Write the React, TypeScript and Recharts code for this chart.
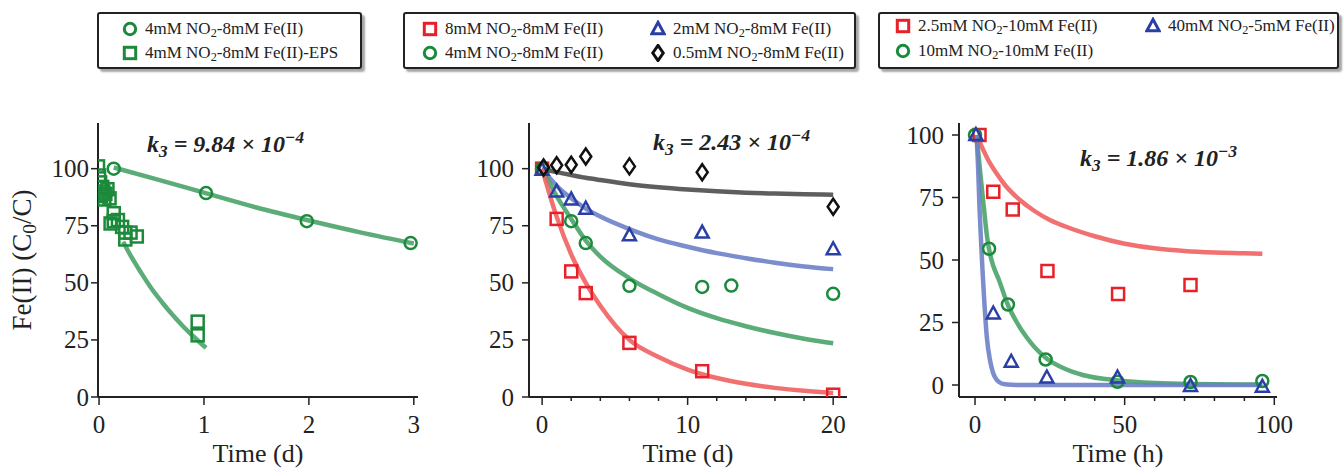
import { ComposedChart, Line, Scatter, XAxis, YAxis } from 'recharts';

const FONT = "'Liberation Serif', 'Times New Roman', serif";

const GREEN = '#1b8a3b';
const GREEN_LINE = '#4aa36a';
const RED = '#e8202a';
const RED_LINE = '#f06262';
const BLUE = '#2a3fa6';
const BLUE_LINE = '#6d81c6';
const BLACK = '#111111';
const BLACK_LINE = '#4d4d4d';

// panel 1 (days)
const p1CircX = [0.14, 1.02, 1.98, 2.97];
const p1CircY = [100, 89.3, 77, 67.4];
const p1SqX = [-0.01, 0, 0.01, 0.03, 0.04, 0.02, 0.05, 0.06, 0.08, 0.1, 0.11, 0.14, 0.14, 0.18, 0.22, 0.25, 0.25, 0.3, 0.36, 0.94, 0.94];
const p1SqY = [101, 97, 94, 92, 90, 88, 86.5, 89, 91, 87, 76, 80.5, 77, 77.5, 74.5, 72, 69, 72, 70.3, 33, 27];
const p1CircFitX = [0.14, 0.5, 1, 1.5, 2, 2.5, 3];
const p1CircFitY = [100.5, 96, 89.5, 83, 77.3, 72, 67.2];
const p1SqFitX = [0.23, 0.3, 0.4, 0.5, 0.6, 0.7, 0.8, 0.9, 1.02];
const p1SqFitY = [68, 62, 54.5, 47.5, 41.5, 36, 31, 26.5, 21.5];

// panel 2 (days)
const p2RedX = [0, 1, 2, 3, 6, 11, 20];
const p2RedY = [100, 78, 55, 45.5, 23.7, 11.3, 1];
const p2GreenX = [0, 2, 3, 6, 11, 13, 20];
const p2GreenY = [100, 77, 67.4, 48.7, 48.2, 48.8, 45.2];
const p2BlueX = [0, 1, 2, 3, 6, 11, 20];
const p2BlueY = [99.5, 90, 86.5, 82.5, 70.8, 72, 64.7];
const p2BlackX = [0.1, 1, 2, 3, 6, 11, 20];
const p2BlackY = [100.5, 101.5, 101.7, 105.3, 101, 98.4, 83.3];
const p2FitX = [0, 1, 2, 3, 4, 6, 8, 10, 12, 14, 16, 18, 20];
const p2RedFit = [100, 79, 62.5, 50, 40, 25, 17.5, 12, 8.3, 5.8, 4, 2.7, 1.8];
const p2GreenFit = [100, 88, 78, 68.5, 61.5, 52, 45, 39, 34.5, 31, 28, 25.5, 23.5];
const p2BlueFit = [100, 92.5, 87, 82.5, 79, 73.5, 69, 65.8, 63, 60.8, 58.8, 57.2, 56];
const p2BlackFit = [100, 98.5, 97.2, 96, 95, 93.2, 91.9, 90.9, 90.1, 89.5, 89.1, 88.8, 88.6];

// panel 3 (hours)
const p3RedX = [1.5, 6.1, 12.6, 24.2, 47.8, 72];
const p3RedY = [100, 77.3, 70.2, 45.6, 36.4, 40];
const p3GreenX = [0, 4.7, 11, 23.6, 47.6, 72, 96];
const p3GreenY = [100, 54.5, 32.2, 10.2, 1.3, 1.2, 1.6];
const p3BlueX = [0.3, 6.1, 12.1, 24, 47.6, 72, 96];
const p3BlueY = [100, 28.6, 9.3, 3, 3, -0.4, -0.7];
const p3RedFitX = [0.5, 2, 4.4, 7, 10, 15, 20, 25, 30, 40, 50, 60, 70, 80, 90, 96];
const p3RedFitY = [100, 96, 90, 85, 80, 74, 69.5, 66, 63.5, 59.5, 56.5, 54.7, 53.6, 53, 52.7, 52.5];
const p3GreenFitX = [0.5, 1, 2, 3, 4, 5, 6, 8, 11, 14, 17, 20, 24, 30, 36, 48, 60, 72, 96];
const p3GreenFitY = [100, 94, 82, 70.5, 59.5, 52.5, 48, 42, 32, 25, 19.5, 15, 10.5, 6.5, 4, 1.8, 0.8, 0.4, 0.2];
const p3BlueFitX = [0.5, 1, 1.5, 2, 2.5, 3, 4, 5, 6, 7, 8, 10, 14, 96];
const p3BlueFitY = [100, 88, 71, 58, 46, 35.5, 18.5, 10, 5, 2.5, 1.2, 0.3, 0, 0];

const yTicks = [0, 25, 50, 75, 100];

type Pt = { x: number; y: number };
const pts = (xs: number[], ys: number[]): Pt[] => xs.map((x, i) => ({ x, y: ys[i] }));

type Kind = 'square' | 'circle' | 'triangle' | 'diamond';

const Marker = ({ kind, cx, cy, color, s = 1, sw = 2.5 }: any) => {
  if (kind === 'square')
    return <rect x={cx - 6 * s} y={cy - 6 * s} width={12 * s} height={12 * s} fill="none" stroke={color} strokeWidth={sw} />;
  if (kind === 'circle') return <circle cx={cx} cy={cy} r={6 * s} fill="none" stroke={color} strokeWidth={sw} />;
  if (kind === 'triangle')
    return (
      <polygon
        points={`${cx},${cy - 7 * s} ${cx - 6.5 * s},${cy + 5 * s} ${cx + 6.5 * s},${cy + 5 * s}`}
        fill="none"
        stroke={color}
        strokeWidth={sw}
      />
    );
  return (
    <polygon
      points={`${cx},${cy - 8 * s} ${cx + 5.5 * s},${cy} ${cx},${cy + 8 * s} ${cx - 5.5 * s},${cy}`}
      fill="none"
      stroke={color}
      strokeWidth={sw}
    />
  );
};

type Series =
  | { kind: 'line'; data: Pt[]; color: string }
  | { kind: 'scatter'; data: Pt[]; color: string; marker: Kind };

const textStyle = { fontFamily: FONT };

const XTick = ({ x, y, payload, majors }: any) => {
  const major = majors.includes(payload.value);
  return (
    <g>
      <line x1={x} x2={x} y1={y} y2={y + (major ? 8 : 4)} stroke="#222" strokeWidth={1.5} />
      {major && (
        <text x={x} y={y + 36} textAnchor="middle" fontSize={25} style={textStyle} fill="#222">
          {payload.value}
        </text>
      )}
    </g>
  );
};

const YTick = ({ x, y, payload, gap }: any) => (
  <g>
    <line x1={x - 7} x2={x} y1={y} y2={y} stroke="#222" strokeWidth={1.5} />
    <text x={x - 7 - gap} y={y + 8.5} textAnchor="end" fontSize={25} style={textStyle} fill="#222">
      {payload.value}
    </text>
  </g>
);

interface PanelProps {
  left: number;
  width: number;
  yAxisWidth: number;
  right: number;
  xDomain: [number, number];
  yDomain: [number, number];
  xTicks: number[];
  xMajors: number[];
  yGap: number;
  xLabel: string;
  series: Series[];
}

const Panel = ({ left, width, yAxisWidth, right, xDomain, yDomain, xTicks, xMajors, yGap, xLabel, series }: PanelProps) => (
  <div style={{ position: 'absolute', left, top: 100 }}>
    <ComposedChart width={width} height={370} margin={{ top: 23, right, bottom: 0, left: 0 }}>
      <XAxis
        dataKey="x"
        type="number"
        domain={xDomain}
        allowDataOverflow
        ticks={xTicks}
        interval={0}
        tickSize={0}
        tickMargin={0}
        tickLine={false}
        tick={(p: any) => <XTick {...p} majors={xMajors} />}
        axisLine={{ stroke: '#222', strokeWidth: 2 }}
        height={73}
        label={{ value: xLabel, position: 'insideBottom', offset: 8, fontSize: 26, style: textStyle, fill: '#222' }}
      />
      <XAxis xAxisId="top" orientation="top" type="number" domain={xDomain} tick={false} tickLine={false} height={0} axisLine={{ stroke: '#222', strokeWidth: 2 }} />
      <YAxis
        dataKey="y"
        type="number"
        domain={yDomain}
        allowDataOverflow
        ticks={yTicks}
        interval={0}
        tickSize={0}
        tickMargin={0}
        tickLine={false}
        tick={(p: any) => <YTick {...p} gap={yGap} />}
        axisLine={{ stroke: '#222', strokeWidth: 2 }}
        width={yAxisWidth}
      />
      <YAxis yAxisId="right" orientation="right" type="number" domain={yDomain} tick={false} tickLine={false} width={0} axisLine={{ stroke: '#222', strokeWidth: 2 }} />
      {series
        .filter((s) => s.kind === 'line')
        .map((s, i) => (
          <Line
            key={`l${i}`}
            data={s.data}
            dataKey="y"
            type="monotone"
            dot={false}
            activeDot={false}
            stroke={s.color}
            strokeWidth={4.5}
            strokeOpacity={0.9}
            isAnimationActive={false}
          />
        ))}
      {series
        .filter((s) => s.kind === 'scatter')
        .map((s: any, i) => (
          <Scatter
            key={`s${i}`}
            data={s.data}
            isAnimationActive={false}
            shape={(p: any) => <Marker kind={s.marker} cx={p.cx} cy={p.cy} color={s.color} />}
          />
        ))}
    </ComposedChart>
  </div>
);

const Sub = ({ children }: any) => (
  <sub style={{ fontSize: '0.72em', verticalAlign: '-0.28em', lineHeight: 0 }}>{children}</sub>
);

const LegendItem = ({ x, y, kind, color, children }: any) => (
  <div style={{ position: 'absolute', left: x - 8, top: y - 11, height: 22, display: 'flex', alignItems: 'center', whiteSpace: 'nowrap' }}>
    <svg width={16} height={18} style={{ marginRight: 7 }}>
      <Marker kind={kind} cx={8} cy={9} color={color} s={0.95} sw={3} />
    </svg>
    <span style={{ fontSize: 17, fontFamily: FONT, color: '#222' }}>{children}</span>
  </div>
);

const LegendBox = ({ left, width }: any) => (
  <div
    style={{
      position: 'absolute',
      left,
      top: 12,
      width,
      height: 57,
      border: '2px solid #222',
      borderRadius: 3,
      boxSizing: 'border-box',
      boxShadow: '3px 3px 2px rgba(0,0,0,0.35)',
      background: '#fff',
    }}
  />
);

const Note = ({ left, top, k, exp }: any) => (
  <div style={{ position: 'absolute', left, top, fontSize: 24, lineHeight: '24px', fontFamily: FONT, fontWeight: 'bold', fontStyle: 'italic', color: '#222', whiteSpace: 'nowrap' }}>
    k<Sub>3</Sub> = {k} × 10
    <sup style={{ fontSize: '0.72em', verticalAlign: '0.5em', lineHeight: 0 }}>{exp}</sup>
  </div>
);

export default function App() {
  return (
    <div style={{ position: 'absolute', left: 0, top: 0, width: 1344, height: 470, background: '#fff', overflow: 'hidden' }}>
      <LegendBox left={97} width={265} />
      <LegendItem x={130} y={29} kind="circle" color={GREEN}>4mM NO<Sub>2</Sub>-8mM Fe(II)</LegendItem>
      <LegendItem x={130} y={53} kind="square" color={GREEN}>4mM NO<Sub>2</Sub>-8mM Fe(II)-EPS</LegendItem>

      <LegendBox left={403} width={453} />
      <LegendItem x={430} y={29} kind="square" color={RED}>8mM NO<Sub>2</Sub>-8mM Fe(II)</LegendItem>
      <LegendItem x={430} y={53} kind="circle" color={GREEN}>4mM NO<Sub>2</Sub>-8mM Fe(II)</LegendItem>
      <LegendItem x={658} y={29} kind="triangle" color={BLUE}>2mM NO<Sub>2</Sub>-8mM Fe(II)</LegendItem>
      <LegendItem x={658} y={53} kind="diamond" color={BLACK}>0.5mM NO<Sub>2</Sub>-8mM Fe(II)</LegendItem>

      <LegendBox left={878} width={461} />
      <LegendItem x={903} y={26} kind="square" color={RED}>2.5mM NO<Sub>2</Sub>-10mM Fe(II)</LegendItem>
      <LegendItem x={903} y={51} kind="circle" color={GREEN}>10mM NO<Sub>2</Sub>-10mM Fe(II)</LegendItem>
      <LegendItem x={1153} y={26} kind="triangle" color={BLUE}>40mM NO<Sub>2</Sub>-5mM Fe(II)</LegendItem>

      <div
        style={{
          position: 'absolute',
          left: 22,
          top: 260,
          transform: 'translate(-50%, -50%) rotate(-90deg)',
          fontSize: 27,
          fontFamily: FONT,
          color: '#222',
          whiteSpace: 'nowrap',
        }}
      >
        Fe(II) (C<Sub>0</Sub>/C)
      </div>

      <Panel
        left={0}
        width={440}
        yAxisWidth={98}
        right={22}
        xDomain={[-0.01, 3.04]}
        yDomain={[0, 120]}
        xTicks={[0, 1, 2, 3]}
        xMajors={[0, 1, 2, 3]}
        yGap={2}
        xLabel="Time (d)"
        series={[
          { kind: 'line', data: pts(p1CircFitX, p1CircFitY), color: GREEN_LINE },
          { kind: 'line', data: pts(p1SqFitX, p1SqFitY), color: GREEN_LINE },
          { kind: 'scatter', data: pts(p1CircX, p1CircY), color: GREEN, marker: 'circle' },
          { kind: 'scatter', data: pts(p1SqX, p1SqY), color: GREEN, marker: 'square' },
        ]}
      />
      <Panel
        left={440}
        width={430}
        yAxisWidth={89}
        right={23}
        xDomain={[-0.9, 20.95]}
        yDomain={[0, 120]}
        xTicks={[0, 2, 4, 6, 8, 10, 12, 14, 16, 18, 20]}
        xMajors={[0, 10, 20]}
        yGap={8}
        xLabel="Time (d)"
        series={[
          { kind: 'line', data: pts(p2FitX, p2BlackFit), color: BLACK_LINE },
          { kind: 'line', data: pts(p2FitX, p2BlueFit), color: BLUE_LINE },
          { kind: 'line', data: pts(p2FitX, p2GreenFit), color: GREEN_LINE },
          { kind: 'line', data: pts(p2FitX, p2RedFit), color: RED_LINE },
          { kind: 'scatter', data: pts(p2RedX, p2RedY), color: RED, marker: 'square' },
          { kind: 'scatter', data: pts(p2GreenX, p2GreenY), color: GREEN, marker: 'circle' },
          { kind: 'scatter', data: pts(p2BlueX, p2BlueY), color: BLUE, marker: 'triangle' },
          { kind: 'scatter', data: pts(p2BlackX, p2BlackY), color: BLACK, marker: 'diamond' },
        ]}
      />
      <Panel
        left={880}
        width={464}
        yAxisWidth={79}
        right={67}
        xDomain={[-5.35, 100.9]}
        yDomain={[-4.8, 104.8]}
        xTicks={[0, 10, 20, 30, 40, 50, 60, 70, 80, 90, 100]}
        xMajors={[0, 50, 100]}
        yGap={8}
        xLabel="Time (h)"
        series={[
          { kind: 'line', data: pts(p3RedFitX, p3RedFitY), color: RED_LINE },
          { kind: 'line', data: pts(p3GreenFitX, p3GreenFitY), color: GREEN_LINE },
          { kind: 'line', data: pts(p3BlueFitX, p3BlueFitY), color: BLUE_LINE },
          { kind: 'scatter', data: pts(p3RedX, p3RedY), color: RED, marker: 'square' },
          { kind: 'scatter', data: pts(p3GreenX, p3GreenY), color: GREEN, marker: 'circle' },
          { kind: 'scatter', data: pts(p3BlueX, p3BlueY), color: BLUE, marker: 'triangle' },
        ]}
      />

      <Note left={147} top={132} k="9.84" exp="−4" />
      <Note left={653} top={130} k="2.43" exp="−4" />
      <Note left={1080} top={146} k="1.86" exp="−3" />
    </div>
  );
}
